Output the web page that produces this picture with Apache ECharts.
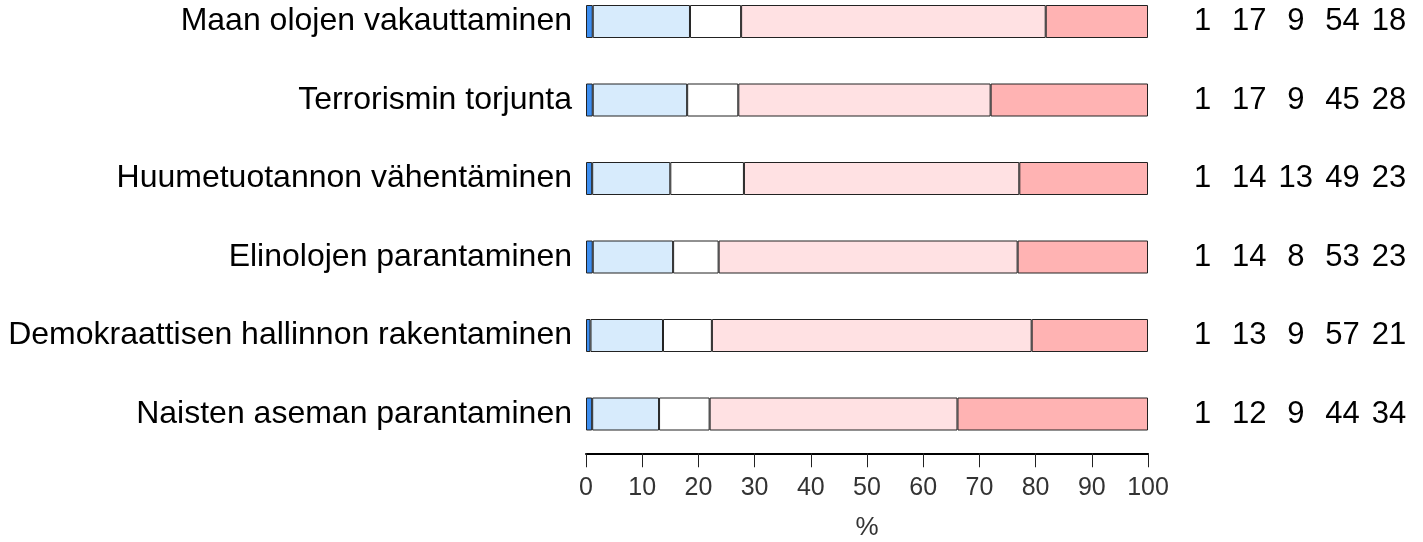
<!DOCTYPE html>
<html><head><meta charset="utf-8">
<script src="https://cdn.jsdelivr.net/npm/echarts@6/dist/echarts.min.js"></script>
<style>html,body{margin:0;padding:0;background:#fff}#c{width:1423px;height:542px}</style>
</head><body><div id="c"></div>
<script>
const categories = [
  'Maan olojen vakauttaminen',
  'Terrorismin torjunta',
  'Huumetuotannon vähentäminen',
  'Elinolojen parantaminen',
  'Demokraattisen hallinnon rakentaminen',
  'Naisten aseman parantaminen'
];
const s1 = [1.2, 1.2, 1.1, 1.2, 0.8, 1.1];
const s2 = [17.3, 16.8, 13.9, 14.3, 12.9, 11.9];
const s3 = [9.1, 9.1, 13.1, 8.1, 8.7, 9.0];
const s4 = [54.2, 44.9, 49.0, 53.2, 56.9, 44.1];
const s5 = [18.2, 28.0, 22.9, 23.2, 20.7, 33.9];
const xTicks = [0, 10, 20, 30, 40, 50, 60, 70, 80, 90, 100];
const axisName = '%';

const seriesData = [s1, s2, s3, s4, s5];
const colors = ['#3d8ef0', '#d7ebfc', '#ffffff', '#ffe1e3', '#ffb3b3'];
const FONT = "'Liberation Sans', Arial, sans-serif";

const numData = [];
categories.forEach((c, r) => {
  seriesData.forEach((s, k) => numData.push([k, r, Math.round(s[r])]));
});

const chart = echarts.init(document.getElementById('c'), null, {renderer: 'canvas'});
chart.setOption({
  animation: false,
  backgroundColor: '#fff',
  grid: [
    {left: 586, width: 562, top: -17.75, height: 471, outerBoundsMode: 'none', containLabel: false},
    {left: 1202.5, width: 186.5, top: -17.75, height: 471, outerBoundsMode: 'none', containLabel: false}
  ],
  xAxis: [
    {
      type: 'value', gridIndex: 0,
      min: xTicks[0], max: xTicks[xTicks.length - 1], interval: xTicks[1] - xTicks[0],
      position: 'bottom',
      axisLine: {show: true, lineStyle: {color: '#000', width: 2}},
      axisTick: {show: true, length: 14, lineStyle: {color: '#222', width: 1}},
      axisLabel: {fontSize: 25, color: '#333', margin: 22, fontFamily: FONT},
      splitLine: {show: false},
      name: axisName, nameLocation: 'middle', nameGap: 62,
      nameTextStyle: {fontSize: 26, color: '#333', fontFamily: FONT}
    },
    {type: 'value', gridIndex: 1, min: 0, max: 4, show: false}
  ],
  yAxis: [
    {
      type: 'category', gridIndex: 0, data: categories, inverse: true,
      axisLine: {show: false}, axisTick: {show: false}, splitLine: {show: false},
      axisLabel: {fontSize: 32, color: '#000', margin: 14, fontFamily: FONT}
    },
    {type: 'category', gridIndex: 1, data: categories, inverse: true, show: false}
  ],
  series: seriesData.map((d, i) => ({
    type: 'bar', stack: 'total', xAxisIndex: 0, yAxisIndex: 0,
    data: d, barWidth: 33, clip: false,
    itemStyle: {color: colors[i], borderColor: '#222', borderWidth: 1}
  })).concat([{
    type: 'custom', xAxisIndex: 1, yAxisIndex: 1,
    data: numData,
    encode: {x: 0, y: 1},
    clip: false,
    renderItem: function (params, api) {
      const p = api.coord([api.value(0), api.value(1)]);
      return {
        type: 'text', x: p[0], y: p[1],
        style: {text: String(api.value(2)), fontSize: 31, fontFamily: FONT, fill: '#000', align: 'center', verticalAlign: 'middle'}
      };
    }
  }])
});
</script>
</body></html>
